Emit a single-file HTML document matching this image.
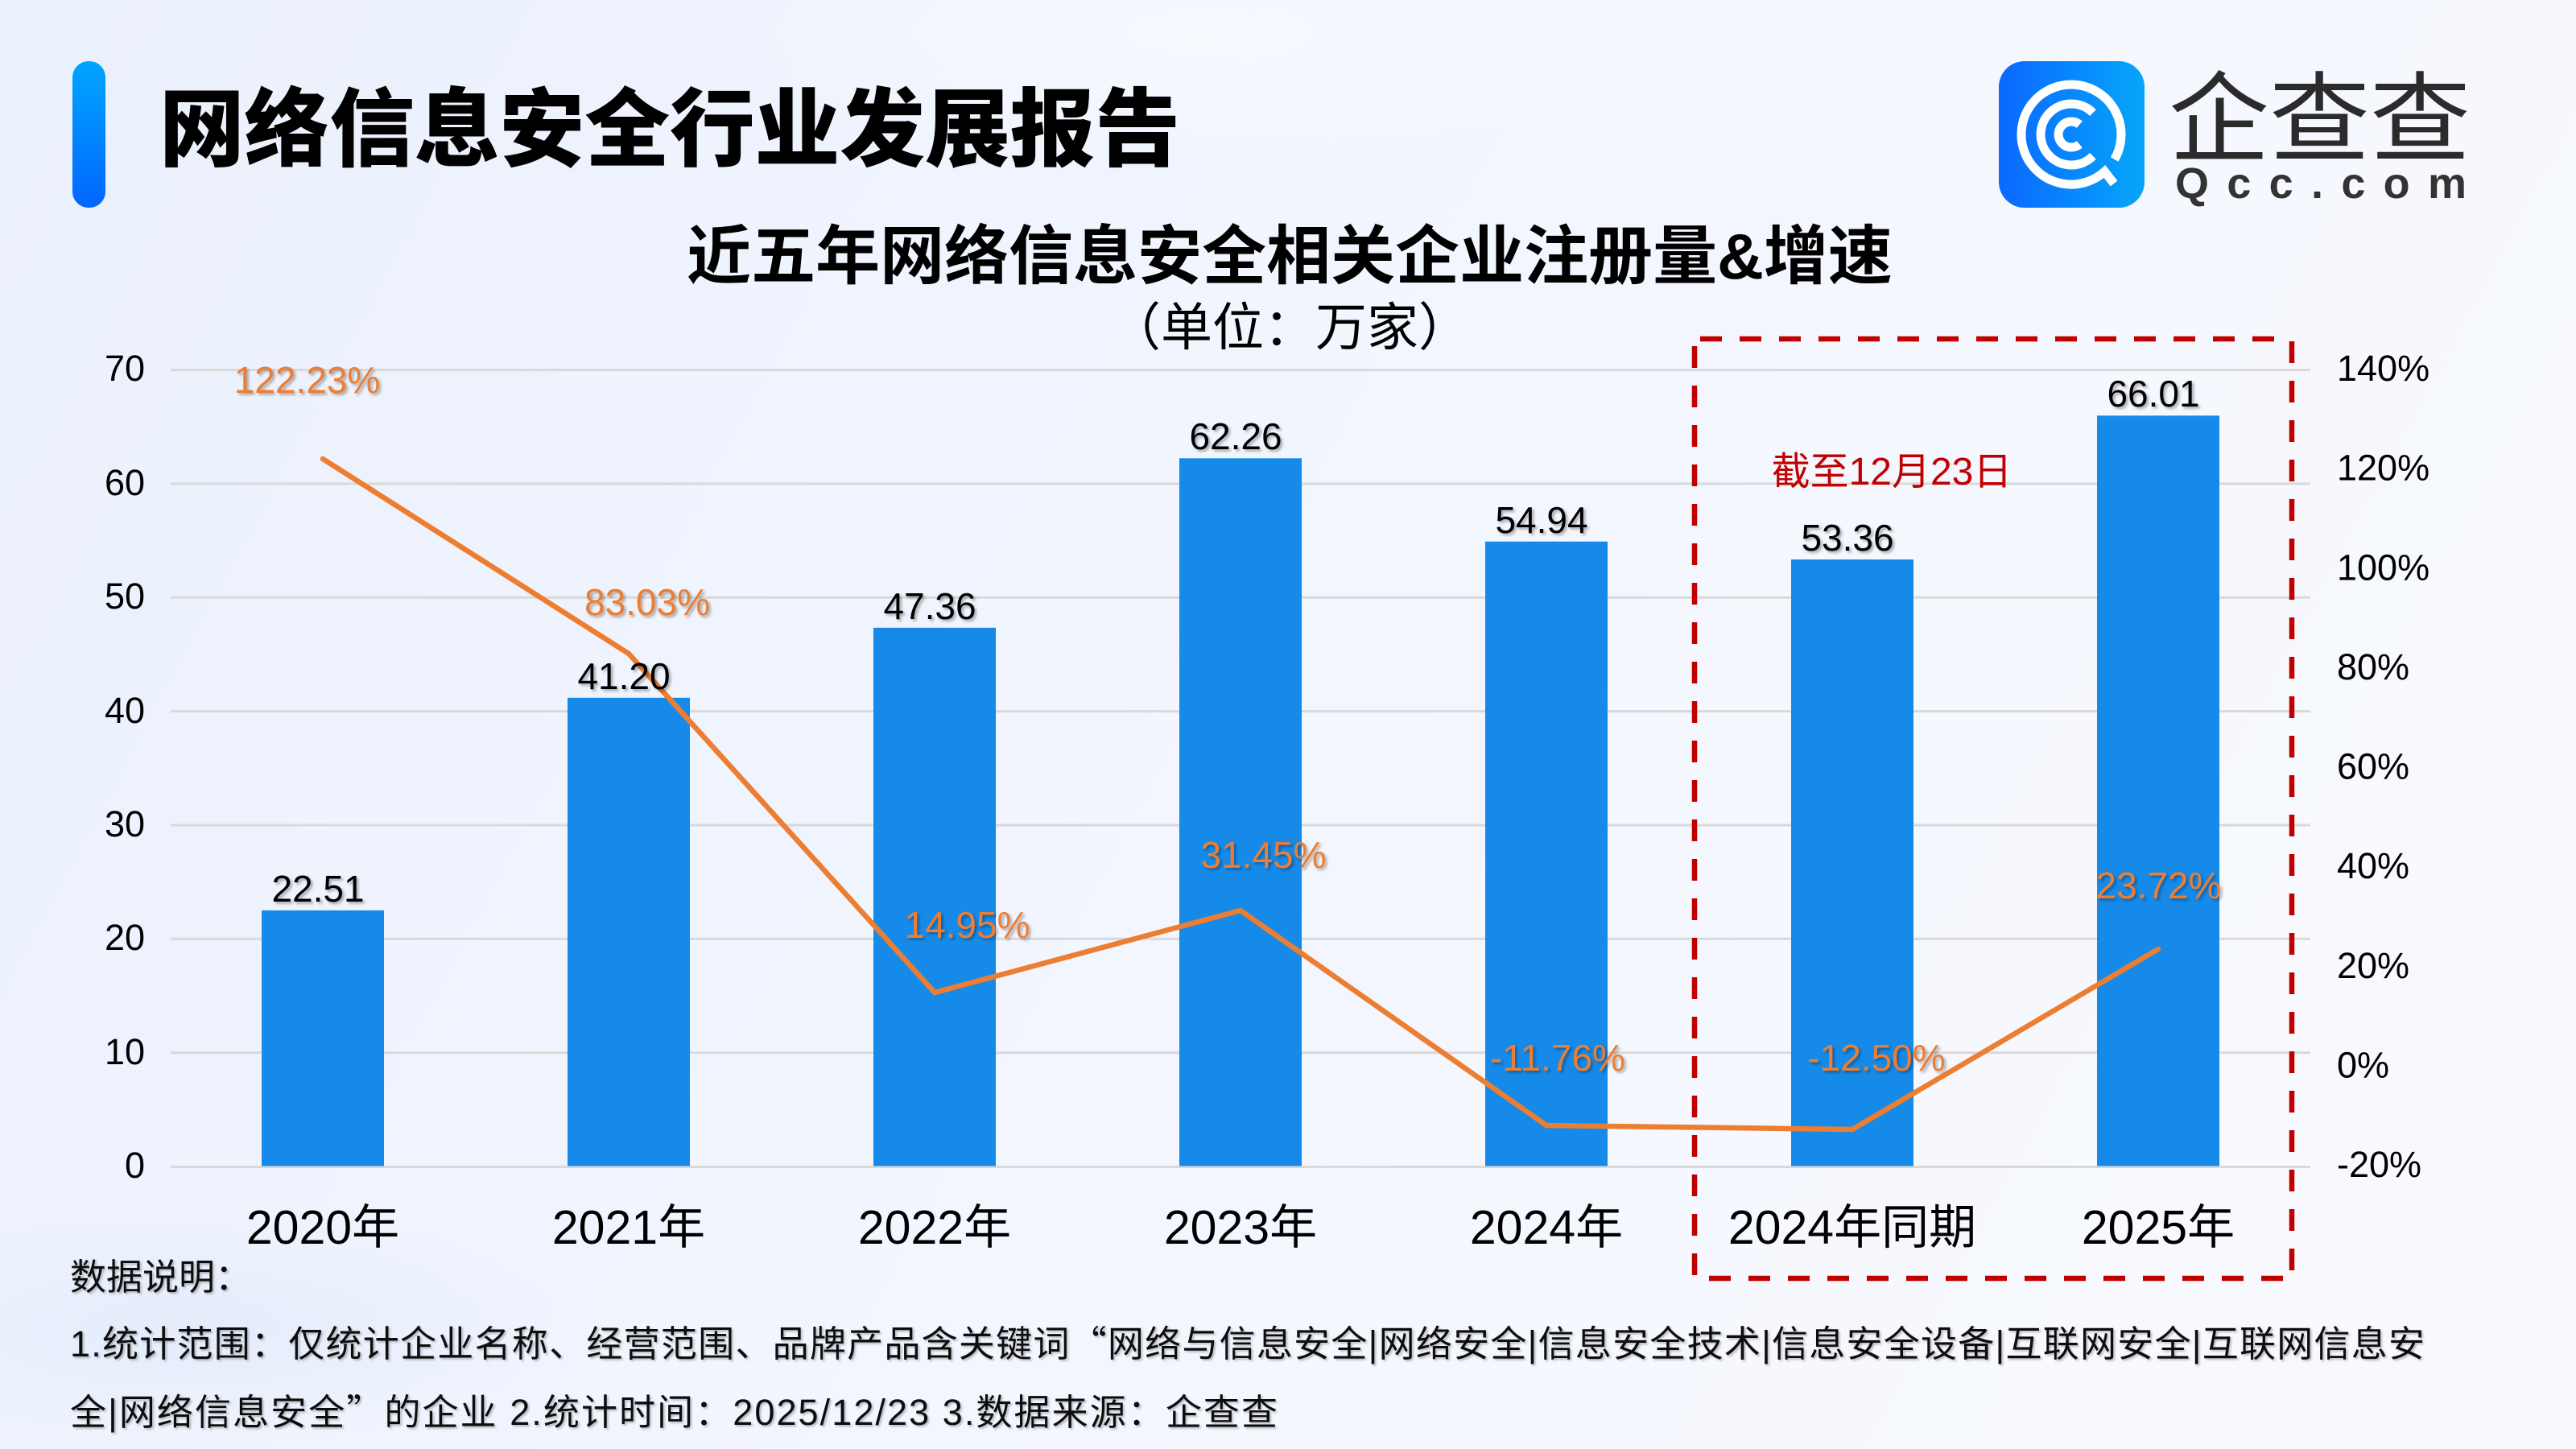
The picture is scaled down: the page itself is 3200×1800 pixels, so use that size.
<!DOCTYPE html>
<html lang="zh-CN">
<head>
<meta charset="utf-8">
<style>
  html,body{margin:0;padding:0;width:3200px;height:1800px;overflow:hidden;}
  svg{display:block;}
</style>
</head>
<body>
<svg width="3200" height="1800" viewBox="0 0 3200 1800" xmlns="http://www.w3.org/2000/svg" overflow="hidden">
  <defs>
    <linearGradient id="bg" x1="0" y1="0" x2="1" y2="0.3">
      <stop offset="0" stop-color="#EAF0FC"/>
      <stop offset="0.5" stop-color="#F1F5FE"/>
      <stop offset="1" stop-color="#F7F9FE"/>
    </linearGradient>
    <radialGradient id="blob" cx="0.5" cy="0.5" r="0.5">
      <stop offset="0" stop-color="#F8FAFF" stop-opacity="0.9"/>
      <stop offset="1" stop-color="#F8FAFF" stop-opacity="0"/>
    </radialGradient>
    <radialGradient id="blob2" cx="0.5" cy="0.5" r="0.5">
      <stop offset="0" stop-color="#E2EBFA" stop-opacity="0.8"/>
      <stop offset="1" stop-color="#E2EBFA" stop-opacity="0"/>
    </radialGradient>
    <linearGradient id="accent" x1="0" y1="0" x2="0" y2="1">
      <stop offset="0" stop-color="#00A6FF"/>
      <stop offset="1" stop-color="#0066FF"/>
    </linearGradient>
    <linearGradient id="logo" x1="0" y1="0" x2="1" y2="0">
      <stop offset="0" stop-color="#0A68FF"/>
      <stop offset="1" stop-color="#06A6FA"/>
    </linearGradient>
    <filter id="sh" x="-10%" y="-30%" width="130%" height="170%">
      <feDropShadow dx="2.5" dy="2.5" stdDeviation="1.6" flood-color="#000" flood-opacity="0.32"/>
    </filter>
    <filter id="sh2" x="-2%" y="-5%" width="104%" height="110%">
      <feDropShadow dx="2" dy="2" stdDeviation="1.4" flood-color="#000" flood-opacity="0.25"/>
    </filter>
  </defs>

  <!-- background -->
  <rect x="0" y="0" width="3200" height="1800" fill="url(#bg)"/>
  <ellipse cx="1500" cy="40" rx="600" ry="160" fill="url(#blob)"/>
  <ellipse cx="250" cy="1650" rx="500" ry="150" fill="url(#blob2)"/>

  <!-- header -->
  <rect x="90" y="76" width="41" height="182" rx="20" ry="20" fill="url(#accent)"/>
  <text x="198" y="198" font-family="'Liberation Sans','Noto Sans CJK SC',sans-serif" font-weight="900" font-size="106" fill="#000" textLength="1268" lengthAdjust="spacingAndGlyphs">网络信息安全行业发展报告</text>

  <!-- logo -->
  <rect x="2483" y="76" width="181" height="182" rx="32" ry="32" fill="url(#logo)"/>
  <g fill="none" stroke="#FFFFFF" stroke-width="11">
    <path d="M 2626.7 198 A 62 62 0 1 0 2614.5 213.1 L 2626 228"/>
    <path d="M 2599.9 140.1 A 38 38 0 1 0 2599.9 193.9"/>
    <path d="M 2583.3 154.7 A 16 16 0 1 0 2583.3 179.3"/>
  </g>
  <text x="2694" y="191" font-family="'Liberation Sans','Noto Sans CJK SC',sans-serif" font-size="122" fill="#2B2B2B" textLength="375" lengthAdjust="spacingAndGlyphs">企查查</text>
  <text x="2702" y="246" font-family="'Liberation Sans',sans-serif" font-weight="bold" font-size="54" fill="#333333" textLength="362" lengthAdjust="spacing">Qcc.com</text>

  <!-- chart titles -->
  <text x="1602" y="346" text-anchor="middle" font-family="'Liberation Sans','Noto Sans CJK SC',sans-serif" font-weight="bold" font-size="80" fill="#000">近五年网络信息安全相关企业注册量&amp;增速</text>
  <text x="1602" y="429" text-anchor="middle" font-family="'Liberation Sans','Noto Sans CJK SC',sans-serif" font-size="64" fill="#000">（单位：万家）</text>

  <!-- gridlines -->
  <g stroke="#D9D9D9" stroke-width="3">
    <line x1="212" y1="459.6" x2="2870" y2="459.6"/>
    <line x1="212" y1="600.9" x2="2870" y2="600.9"/>
    <line x1="212" y1="742.3" x2="2870" y2="742.3"/>
    <line x1="212" y1="883.6" x2="2870" y2="883.6"/>
    <line x1="212" y1="1025.0" x2="2870" y2="1025.0"/>
    <line x1="212" y1="1166.3" x2="2870" y2="1166.3"/>
    <line x1="212" y1="1307.7" x2="2870" y2="1307.7"/>
    <line x1="212" y1="1449.5" x2="2870" y2="1449.5"/>
  </g>

  <!-- left axis labels -->
  <g font-family="'Liberation Sans',sans-serif" font-size="45" fill="#000" text-anchor="end">
    <text x="180" y="473">70</text>
    <text x="180" y="615">60</text>
    <text x="180" y="756">50</text>
    <text x="180" y="898">40</text>
    <text x="180" y="1039">30</text>
    <text x="180" y="1180">20</text>
    <text x="180" y="1322">10</text>
    <text x="180" y="1463">0</text>
  </g>

  <!-- right axis labels -->
  <g font-family="'Liberation Sans',sans-serif" font-size="45" fill="#000">
    <text x="2903" y="473">140%</text>
    <text x="2903" y="596.6">120%</text>
    <text x="2903" y="720.3">100%</text>
    <text x="2903" y="843.9">80%</text>
    <text x="2903" y="967.5">60%</text>
    <text x="2903" y="1091.1">40%</text>
    <text x="2903" y="1214.8">20%</text>
    <text x="2903" y="1338.4">0%</text>
    <text x="2903" y="1462">-20%</text>
  </g>

  <!-- bars -->
  <g fill="#168AE9">
    <rect x="325" y="1130.9" width="152" height="317.6"/>
    <rect x="705" y="866.8" width="152" height="581.7"/>
    <rect x="1085" y="779.8" width="152" height="668.7"/>
    <rect x="1465" y="569.3" width="152" height="879.2"/>
    <rect x="1845" y="672.7" width="152" height="775.8"/>
    <rect x="2225" y="695.0" width="152" height="753.5"/>
    <rect x="2605" y="516.3" width="152" height="932.2"/>
  </g>

  <!-- line -->
  <polyline points="401,570 781,812 1161,1233 1541,1131 1921,1398 2301,1403 2681,1179" fill="none" stroke="#ED7D31" stroke-width="6.5" stroke-linejoin="miter" stroke-linecap="round"/>

  <!-- bar value labels -->
  <g font-family="'Liberation Sans',sans-serif" font-size="46" fill="#000" text-anchor="middle" filter="url(#sh)">
    <text x="395" y="1120">22.51</text>
    <text x="775" y="856">41.20</text>
    <text x="1155" y="769">47.36</text>
    <text x="1535" y="558">62.26</text>
    <text x="1915" y="662">54.94</text>
    <text x="2295" y="684">53.36</text>
    <text x="2675" y="505">66.01</text>
  </g>

  <!-- percent labels -->
  <g font-family="'Liberation Sans',sans-serif" font-size="46" fill="#ED7D31" text-anchor="middle" filter="url(#sh)">
    <text x="381.5" y="488">122.23%</text>
    <text x="804" y="764">83.03%</text>
    <text x="1201.5" y="1165">14.95%</text>
    <text x="1569.5" y="1078">31.45%</text>
    <text x="1935" y="1330">-11.76%</text>
    <text x="2331" y="1330">-12.50%</text>
    <text x="2681.5" y="1116">23.72%</text>
  </g>

  <!-- x axis labels -->
  <g font-family="'Liberation Sans','Noto Sans CJK SC',sans-serif" font-size="59" fill="#000" text-anchor="middle">
    <text x="401" y="1545">2020年</text>
    <text x="781" y="1545">2021年</text>
    <text x="1161" y="1545">2022年</text>
    <text x="1541" y="1545">2023年</text>
    <text x="1921" y="1545">2024年</text>
    <text x="2301" y="1545">2024年同期</text>
    <text x="2681" y="1545">2025年</text>
  </g>

  <!-- annotation -->
  <text x="2350" y="602" text-anchor="middle" font-family="'Liberation Sans','Noto Sans CJK SC',sans-serif" font-size="48" fill="#C00000">截至12月23日</text>

  <!-- dashed box -->
  <g stroke="#C00000" stroke-width="6.5" stroke-dasharray="27 22" fill="none">
    <line x1="2112" y1="421" x2="2847" y2="421"/>
    <line x1="2105" y1="430" x2="2105" y2="1588"/>
    <line x1="2847" y1="424" x2="2847" y2="1585"/>
    <line x1="2123" y1="1588" x2="2847" y2="1588"/>
  </g>

  <!-- footnote -->
  <g font-family="'Liberation Sans','Noto Sans CJK SC',sans-serif" font-size="45" fill="#111" filter="url(#sh2)">
    <text x="87" y="1602">数据说明：</text>
    <text x="87" y="1685" textLength="2925" lengthAdjust="spacing">1.统计范围：仅统计企业名称、经营范围、品牌产品含关键词<tspan font-family="'Noto Sans CJK SC',sans-serif">“</tspan>网络与信息安全|网络安全|信息安全技术|信息安全设备|互联网安全|互联网信息安</text>
    <text x="87" y="1770" textLength="1500" lengthAdjust="spacing">全|网络信息安全<tspan font-family="'Noto Sans CJK SC',sans-serif">”</tspan>的企业 2.统计时间：2025/12/23 3.数据来源：企查查</text>
  </g>
</svg>
</body>
</html>
